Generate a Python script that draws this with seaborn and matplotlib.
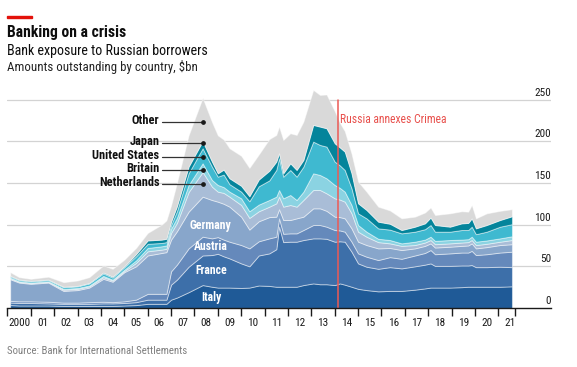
import matplotlib
matplotlib.use("Agg")
import matplotlib.pyplot as plt
import matplotlib.transforms as mtransforms
from matplotlib.patches import Rectangle
import pandas as pd
import seaborn as sns

# ---------------- data ($bn) ----------------
periods = [2000.12, 2000.5, 2001.0, 2001.75, 2002.4, 2003.0, 2003.5, 2004.1, 2004.5, 2005.0,
           2005.5, 2006.0, 2006.6, 2006.8, 2007.0, 2007.25, 2007.75, 2008.35, 2008.75, 2009.0,
           2009.25, 2009.5, 2010.0, 2010.35, 2010.75, 2011.2, 2011.5, 2011.62, 2011.8, 2012.1,
           2012.37, 2012.66, 2013.08, 2013.37, 2013.65, 2014.0, 2014.22, 2014.43, 2014.72, 2015.0,
           2015.36, 2015.86, 2016.36, 2016.86, 2017.43, 2017.86, 2018.1, 2018.29, 2018.93, 2019.43,
           2019.71, 2019.86, 2020.04, 2020.5, 2021.07, 2021.58]

italy = [3.5, 3, 3, 3, 2.5, 2.5, 2.5, 2.5, 2.5, 3,
         3.5, 5, 5, 5, 10, 12.5, 19, 27.5, 25.5, 24.5,
         24.5, 24.5, 24, 24.5, 27, 26.5, 25.5, 25.5, 25.5, 25.5,
         25.5, 27.5, 29.5, 28.5, 28.5, 27.5, 29.5, 28, 25.5, 23,
         21.5, 20, 20.5, 20.5, 22, 23.5, 24.5, 24.5, 24.5, 25,
         25.5, 25.5, 25.5, 25.5, 25.5, 26]
france = [3, 3, 3, 2.5, 2.5, 2.5, 2.5, 3, 3, 3,
          3.5, 5, 5, 5, 18, 21.5, 30.5, 35.5, 38, 40.5,
          37.5, 35, 29.5, 25.5, 36, 39, 45, 72, 53.5, 54,
          54, 54, 54, 55, 54.5, 52, 50.5, 51.5, 42, 30.5,
          28, 27, 28.5, 27, 28, 28.5, 29, 26, 26, 26,
          25.5, 26, 23.5, 23.5, 24, 23]
austria = [2, 2, 2, 2, 1.5, 1.5, 2, 2, 1.5, 2,
           3, 7, 7, 7, 16, 18, 22, 22.5, 20, 20,
           20, 20, 22, 21.5, 17, 18, 15, 10, 10, 10,
           10, 12, 16, 16, 14.5, 14, 13, 12, 12, 12,
           12, 10.5, 12, 11.5, 13, 14, 16, 14, 15, 15.5,
           15.5, 17, 14.5, 15.5, 17, 18.5]
germany = [26, 22.5, 21, 23, 14, 15, 17.5, 27.5, 24.5, 35,
           40, 46, 49, 50, 38, 40, 44, 48, 46, 42.5,
           43, 42, 34, 22.5, 24, 25.5, 24, 11, 16.5, 16,
           18, 16, 20, 20, 19, 16, 16, 16, 16, 14,
           14, 14, 11, 10.5, 8.5, 8.5, 8, 8, 8, 8,
           8.5, 9, 8, 8.5, 9, 9]
netherlands = [1, 1, 1, 1, 1.5, 1.5, 1.5, 2, 1.5, 1.5,
               4, 5, 4, 4, 8, 10, 23.5, 29.5, 16, 12,
               13, 12, 14, 14, 12, 12.5, 16, 15, 16, 18,
               14, 20, 22, 22, 21, 22, 21, 20, 18, 12,
               10, 7.5, 5.5, 5, 4, 4, 4, 4, 4, 4,
               4, 4, 4, 4, 4, 5]
britain = [1, 0.5, 0.5, 0.5, 1, 1, 1, 1.5, 1, 1.5,
           3, 4, 4, 4, 5, 6, 8.5, 10.5, 8, 8,
           7, 6, 8, 8, 8, 8, 8, 8, 10, 12,
           8, 10, 20, 18, 18, 16, 14, 12, 10, 8,
           6, 4, 4, 3, 4, 3.5, 4, 4, 4, 3.5,
           3.5, 4, 4, 4, 4, 4.5]
united_states = [1.5, 1.5, 1.5, 1.5, 2, 2, 2.5, 3, 2.5, 3,
                 5, 5, 4, 4, 4.5, 8, 14, 18, 16, 10,
                 15, 9, 8, 12, 22, 23.5, 32, 38, 26, 30,
                 28, 30, 38, 36, 38, 28, 27, 26, 20, 14,
                 16, 12.5, 12.5, 12, 12, 12.5, 14, 11, 10, 11.5,
                 11, 12, 9, 10.5, 14, 14.5]
japan = [0.5, 0.5, 0.5, 0.5, 0.5, 0.5, 0.5, 1, 1, 1,
         2.5, 4, 4, 4, 4, 6, 8, 8.5, 6, 4,
         6, 7, 7, 6, 8, 11.5, 10, 6, 4, 8,
         8, 8, 20, 22, 22, 22, 21.5, 22, 18, 12,
         10, 8, 7, 4, 6, 7, 9, 8, 6, 8,
         8.5, 10, 7, 8, 8, 9.5]
other = [4.5, 3, 2.5, 3.5, 5.5, 6.5, 7, 8.5, 9.5, 8,
         7.5, 9, 18, 22, 19.5, 28, 37.5, 52, 47.5, 45.5,
         36, 36, 36, 34, 30, 38, 32, 32, 40, 36,
         42, 46, 42, 38, 40.5, 38.5, 29.5, 24.5, 23.5, 26,
         22, 18, 16, 14, 12, 13, 12, 12, 16, 14.5,
         13.5, 16, 12, 14, 11, 8.5]

series_names = ["Italy", "France", "Austria", "Germany", "Netherlands",
                "Britain", "United States", "Japan", "Other"]
y_ticks = [0, 50, 100, 150, 200, 250]
year_ticks = list(range(2000, 2022))
year_labels = ["2000"] + [f"{y % 100:02d}" for y in range(2001, 2022)]
crimea_year = 2014.12

df = pd.DataFrame({
    "Italy": italy, "France": france, "Austria": austria, "Germany": germany,
    "Netherlands": netherlands, "Britain": britain, "United States": united_states,
    "Japan": japan, "Other": other}, index=periods)

colors = ["#1f5a97", "#3d6fa9", "#6589bb", "#88a6cb", "#a9bdd7",
          "#8bd3e2", "#3fb9d0", "#04849b", "#d9d9d9"]

# ---------------- style ----------------
sns.set_theme(style="white")
plt.rcParams["font.family"] = ["Liberation Sans Narrow", "Roboto Condensed", "Lato", "DejaVu Sans"]

W, H = 577, 367
fig = plt.figure(figsize=(W / 100, H / 100), dpi=100)
renderer = fig.canvas.get_renderer()

def px2yr(x):
    return 2000 + (x - 7.4) / 23.38

def fit(t, target_px):
    w = t.get_window_extent(renderer).width
    t.set_fontsize(t.get_fontsize() * target_px / w)
    return t.get_fontsize()

ax_l, ax_r, ax_b, ax_t = 7, 551, 308, 87
ax = fig.add_axes([ax_l / W, 1 - ax_b / H, (ax_r - ax_l) / W, (ax_b - ax_t) / H])
ax.set_xlim(px2yr(ax_l), px2yr(ax_r))
ax.set_ylim(0, (308 - 87) / 0.834)
ax.set_facecolor("white")

for v in y_ticks[1:]:
    ax.axhline(v, color="#d3d3d3", lw=0.9, zorder=0)

ax.stackplot(df.index, *[df[c] for c in series_names], colors=colors,
             edgecolor=(1, 1, 1, 0.45), linewidth=0.7, zorder=2)

sns.despine(ax=ax, left=True, right=True, top=True)
ax.spines["bottom"].set_color("#1a1a1a")
ax.spines["bottom"].set_linewidth(1.0)
ax.spines["bottom"].set_zorder(5)

# x ticks: marks at year boundaries, labels mid-year
ax.set_xticks(year_ticks + [2021.72])
ax.set_xticklabels([])
ax.tick_params(axis="x", which="major", direction="out", length=6, width=1,
               color="#1a1a1a", bottom=True)
ax.set_xticks([y + 0.5 for y in year_ticks], minor=True)
ax.set_xticklabels(year_labels, minor=True)
ax.tick_params(axis="x", which="minor", length=0, pad=7.5, labelcolor="#1a1a1a")
ax.set_yticks([])
ax.grid(False)

# y labels on the right, sitting on the gridlines
blend = mtransforms.blended_transform_factory(ax.transAxes, ax.transData)
ylabs = []
for v in y_ticks:
    ylabs.append(ax.text(1.0, v + 2.2, str(v), transform=blend, ha="right",
                         va="bottom", color="#1a1a1a", fontsize=9))
fs_tick = fit(ylabs[-1], 16.7)
for t in ylabs:
    t.set_fontsize(fs_tick)
for lab in ax.get_xticklabels(minor=True):
    lab.set_fontsize(fs_tick)

# Crimea line and label
ax.plot([crimea_year, crimea_year], [0, 250], color="#ec5a55", lw=1.1, zorder=4)
tc = ax.text(px2yr(340), (308 - 119.5) / 0.834, "Russia annexes Crimea",
             color="#e8504c", ha="left", va="center", fontsize=9, zorder=6)
fit(tc, 107.7)

# legend-like callouts
callouts = [("Other", 121.7), ("Japan", 142.7), ("United States", 156.7),
            ("Britain", 170.0), ("Netherlands", 184.0)]
x_txt, x0, x1 = px2yr(159.5), px2yr(161.5), px2yr(203.3)
ctexts = []
for name, ypx in callouts:
    v = (308 - ypx) / 0.834
    ax.plot([x0, x1], [v, v], color="#333333", lw=0.9, zorder=6)
    ax.plot([x1], [v], marker="o", ms=2.4, color="#1a1a1a", zorder=7)
    ctexts.append(ax.text(x_txt, v + 1.8, name, ha="right", va="center",
                          fontweight="bold", color="#111111", fontsize=9, zorder=7))
fs_c = fit(ctexts[2], 66.7)
for t in ctexts:
    t.set_fontsize(fs_c)

# in-area labels
inner = [("Germany", 210.7, 226.0), ("Austria", 210.7, 246.0),
         ("France", 211.0, 271.0), ("Italy", 211.7, 297.3)]
itexts = []
for name, xp, yp in inner:
    itexts.append(ax.text(px2yr(xp), (308 - yp) / 0.834, name, ha="center",
                          va="center", color="white", fontweight="bold",
                          fontsize=9, zorder=7))
fs_i = fit(itexts[0], 41.7)
for t in itexts:
    t.set_fontsize(fs_i)

# header
fig.patches.append(Rectangle((7 / W, 1 - 18.3 / H), 25 / W, 2.8 / H,
                             transform=fig.transFigure, color="#e3120b", zorder=10))
t1 = fig.text(7 / W, 1 - 37.3 / H, "Banking on a crisis", fontweight="bold",
              color="#0d0d0d", va="baseline", ha="left", fontsize=10)
fit(t1, 119)
t2 = fig.text(7 / W, 1 - 55.5 / H, "Bank exposure to Russian borrowers",
              color="#0d0d0d", va="baseline", ha="left", fontsize=10)
fit(t2, 201)
t3 = fig.text(7 / W, 1 - 71.5 / H, "Amounts outstanding by country, $bn",
              color="#222222", va="baseline", ha="left", fontsize=10)
fit(t3, 188)
t4 = fig.text(7 / W, 1 - 354.5 / H, "Source: Bank for International Settlements",
              color="#7f7f7f", va="baseline", ha="left", fontsize=8)
fit(t4, 179)

fig.savefig("out.png", dpi=100, facecolor="white")
